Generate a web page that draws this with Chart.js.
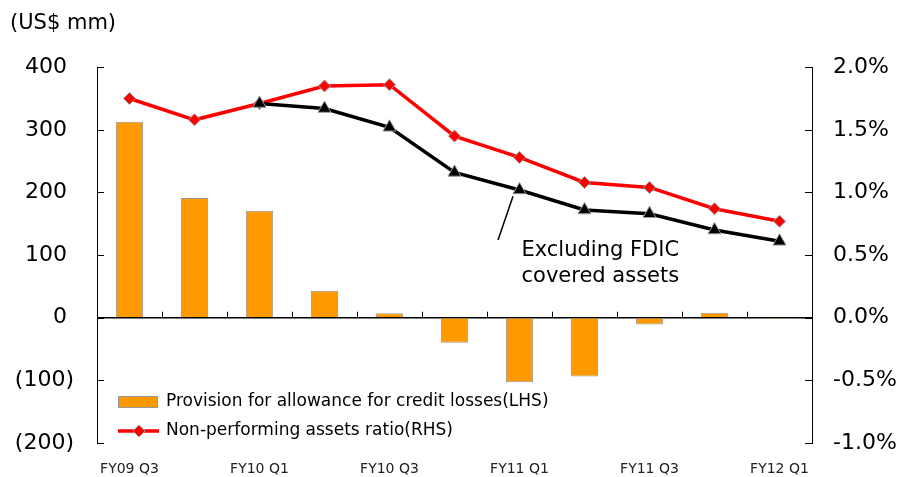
<!DOCTYPE html>
<html>
<head>
<meta charset="utf-8">
<script src="https://cdn.jsdelivr.net/npm/chart.js@4"></script>
<style>
  html, body { margin: 0; padding: 0; background: #fff; }
  #wrap { width: 906px; height: 477px; }
</style>
</head>
<body>
<div id="wrap"><canvas id="chart" width="906" height="477"></canvas></div>
<script>
const quarters = ['FY09 Q3', 'FY09 Q4', 'FY10 Q1', 'FY10 Q2', 'FY10 Q3', 'FY10 Q4',
  'FY11 Q1', 'FY11 Q2', 'FY11 Q3', 'FY11 Q4', 'FY12 Q1'];
const provision = [313, 191, 171, 43, 7, -40, -103, -94, -11, 8, -2];
const npaRatio = [1.75, 1.58, 1.71, 1.85, 1.86, 1.45, 1.28, 1.08, 1.04, 0.87, 0.77];
const npaExFdic = [null, null, 1.71, 1.67, 1.52, 1.16, 1.02, 0.86, 0.83, 0.70, 0.61];
const leftTicks = [-200, -100, 0, 100, 200, 300, 400];
const rightTicks = [-1.0, -0.5, 0.0, 0.5, 1.0, 1.5, 2.0];

const FONT = '"DejaVu Sans", Verdana, sans-serif';
const ORANGE = '#FF9900';
const EDGE = '#999999';

// accounting style: negatives in brackets, positives keep room for the ")"
const fmtLeft = v => v < 0 ? '(' + Math.abs(v) + ')' : v + ' ';

// ticks pointing into the plot, small marks on the zero line, note, legend
const decorations = {
  id: 'decorations',
  afterDraw(chart) {
    const { ctx, chartArea: area, scales: { x, y, y1 } } = chart;
    ctx.save();
    ctx.strokeStyle = '#000';
    ctx.lineWidth = 1;
    ctx.beginPath();
    leftTicks.forEach(v => {
      const py = Math.round(y.getPixelForValue(v)) + 0.5;
      ctx.moveTo(area.left, py); ctx.lineTo(area.left + 7, py);
    });
    rightTicks.forEach(v => {
      const py = Math.round(y1.getPixelForValue(v)) + 0.5;
      ctx.moveTo(area.right, py); ctx.lineTo(area.right - 7, py);
    });
    const zy = y.getPixelForValue(0);
    for (let i = 1; i < quarters.length; i++) {
      const px = Math.round(x.getPixelForValue(i - 0.5)) + 0.5;
      ctx.moveTo(px, zy); ctx.lineTo(px, zy - 6);
    }
    ctx.stroke();

    // leader line + note for the black series
    ctx.beginPath();
    ctx.lineWidth = 1.5;
    ctx.moveTo(x.getPixelForValue(5.67), y1.getPixelForValue(0.62));
    ctx.lineTo(x.getPixelForValue(5.9), y1.getPixelForValue(0.97));
    ctx.stroke();
    ctx.fillStyle = '#000';
    ctx.font = '21px ' + FONT;
    ctx.textAlign = 'left';
    ctx.textBaseline = 'middle';
    const nx = x.getPixelForValue(6) + 2;
    ctx.fillText('Excluding FDIC', nx, y1.getPixelForValue(0.54));
    ctx.fillText('covered assets', nx, y1.getPixelForValue(0.33));

    // legend inside the plot, bottom-left
    const lx = area.left + 21;
    const rows = [area.bottom - 41, area.bottom - 12];
    ctx.fillStyle = ORANGE;
    ctx.strokeStyle = EDGE;
    ctx.lineWidth = 1;
    ctx.fillRect(lx, rows[0] - 6, 40, 12);
    ctx.strokeRect(lx + 0.5, rows[0] - 5.5, 39, 11);
    ctx.strokeStyle = '#FF0000';
    ctx.lineWidth = 3.5;
    ctx.beginPath();
    ctx.moveTo(lx, rows[1]); ctx.lineTo(lx + 41, rows[1]);
    ctx.stroke();
    const cx = lx + 21;
    ctx.beginPath();
    ctx.moveTo(cx, rows[1] - 6); ctx.lineTo(cx + 6, rows[1]);
    ctx.lineTo(cx, rows[1] + 6); ctx.lineTo(cx - 6, rows[1]);
    ctx.closePath();
    ctx.fillStyle = '#FF0000';
    ctx.fill();
    ctx.strokeStyle = EDGE;
    ctx.lineWidth = 1;
    ctx.stroke();
    ctx.fillStyle = '#000';
    ctx.font = '17px ' + FONT;
    ctx.fillText(chart.data.datasets[0].label, lx + 48, rows[0]);
    ctx.fillText(chart.data.datasets[1].label, lx + 48, rows[1]);
    ctx.restore();
  }
};

new Chart(document.getElementById('chart'), {
  data: {
    labels: quarters,
    datasets: [
      {
        type: 'bar',
        label: 'Provision for allowance for credit losses(LHS)',
        data: provision,
        yAxisID: 'y',
        backgroundColor: ORANGE,
        borderColor: EDGE,
        borderWidth: 1,
        barPercentage: 0.42,
        categoryPercentage: 1,
        order: 3
      },
      {
        type: 'line',
        label: 'Non-performing assets ratio(RHS)',
        data: npaRatio,
        yAxisID: 'y1',
        borderColor: '#FF0000',
        borderWidth: 3.5,
        pointStyle: 'rectRot',
        pointRadius: 6,
        pointBackgroundColor: '#FF0000',
        pointBorderColor: EDGE,
        pointBorderWidth: 1,
        tension: 0,
        order: 2
      },
      {
        type: 'line',
        label: 'Excluding FDIC covered assets',
        data: npaExFdic,
        yAxisID: 'y1',
        borderColor: '#000000',
        borderWidth: 3.5,
        pointStyle: 'triangle',
        pointRadius: 7.5,
        pointBackgroundColor: '#000000',
        pointBorderColor: EDGE,
        pointBorderWidth: 1,
        tension: 0,
        order: 1
      }
    ]
  },
  options: {
    responsive: false,
    animation: false,
    layout: { padding: { left: 10, right: 0, top: 0, bottom: 0 } },
    plugins: {
      legend: { display: false },
      tooltip: { enabled: false },
      title: {
        display: true,
        text: '(US$ mm)',
        align: 'start',
        color: '#000',
        font: { family: FONT, size: 21, weight: 'normal' },
        padding: { top: 11, bottom: 31 }
      }
    },
    scales: {
      x: {
        offset: true,
        grid: { display: false, drawTicks: false },
        border: { display: false },
        ticks: {
          autoSkip: false,
          maxRotation: 0,
          padding: 18,
          color: '#222',
          font: { family: FONT, size: 14 },
          callback: (v, i) => i % 2 === 0 ? quarters[i] : ''
        },
        afterFit: s => { s.height = 34; }
      },
      y: {
        position: 'left',
        min: -200,
        max: 400,
        afterBuildTicks: s => { s.ticks = leftTicks.map(value => ({ value })); },
        grid: {
          drawTicks: true,
          tickLength: 23,
          tickColor: 'rgba(0,0,0,0)',
          color: c => c.tick && c.tick.value === 0 ? '#000' : 'rgba(0,0,0,0)',
          lineWidth: 1.5
        },
        border: { display: true, color: '#000', width: 1 },
        ticks: {
          padding: 0,
          color: '#000',
          font: { family: FONT, size: 22 },
          callback: v => fmtLeft(v)
        },
        afterFit: s => { s.width = 87; }
      },
      y1: {
        position: 'right',
        min: -1.0,
        max: 2.0,
        afterBuildTicks: s => { s.ticks = rightTicks.map(value => ({ value })); },
        grid: {
          drawOnChartArea: false,
          drawTicks: true,
          tickLength: 21,
          tickColor: 'rgba(0,0,0,0)',
          color: 'rgba(0,0,0,0)'
        },
        border: { display: true, color: '#000', width: 1 },
        ticks: {
          padding: 0,
          color: '#000',
          font: { family: FONT, size: 22 },
          callback: v => v.toFixed(1) + '%'
        },
        afterFit: s => { s.width = 94; }
      }
    }
  },
  plugins: [decorations]
});
</script>
</body>
</html>
